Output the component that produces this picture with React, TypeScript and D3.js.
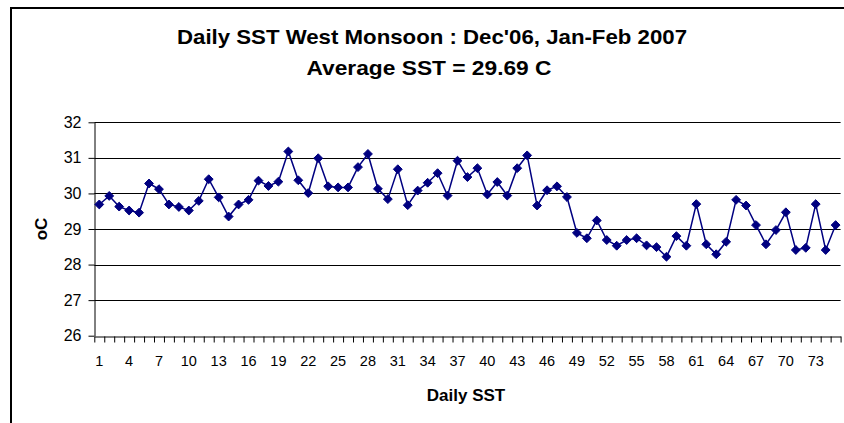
import React, { useEffect, useRef } from 'react';
import * as d3 from 'd3';

const days: number[] = d3.range(1, 76);
const sst: number[] = [
  29.69, 29.93, 29.63, 29.52, 29.46, 30.28, 30.12, 29.69, 29.62, 29.52,
  29.79, 30.40, 29.89, 29.35, 29.69, 29.82, 30.36, 30.21, 30.33, 31.18,
  30.37, 30.01, 30.99, 30.20, 30.17, 30.17, 30.74, 31.11, 30.13, 29.84,
  30.68, 29.67, 30.08, 30.30, 30.57, 29.94, 30.92, 30.46, 30.71, 29.97,
  30.32, 29.94, 30.71, 31.07, 29.66, 30.09, 30.20, 29.90, 28.89, 28.74,
  29.24, 28.69, 28.53, 28.69, 28.74, 28.54, 28.49, 28.22, 28.80, 28.53,
  29.70, 28.57, 28.29, 28.64, 29.82, 29.66, 29.11, 28.57, 28.97, 29.47,
  28.41, 28.47, 29.70, 28.41, 29.11,
];
const yTicks: number[] = [26, 27, 28, 29, 30, 31, 32];
const xLabels: number[] = d3.range(1, 76, 3);

const titleText = "Daily SST West Monsoon : Dec'06, Jan-Feb 2007";
const subtitleText = 'Average SST = 29.69 C';
const xTitle = 'Daily SST';
const yTitle = 'oC';

const App = () => {
  const svgRef = useRef<SVGSVGElement>(null);

  useEffect(() => {
    const width = 844;
    const height = 423;
    const left = 94.3;
    const right = 840.6;
    const top = 122.3;
    const bottom = 335.7;
    const font = 'Liberation Sans, Arial, sans-serif';
    const navy = '#000080';

    const svg = d3.select(svgRef.current)
      .attr('width', width)
      .attr('height', height);

    svg.selectAll('*').remove();

    svg.append('rect')
      .attr('width', width)
      .attr('height', height)
      .attr('fill', '#fff');

    // outer chart border (runs off right and bottom)
    svg.append('rect')
      .attr('x', 11)
      .attr('y', 8)
      .attr('width', 900)
      .attr('height', 500)
      .attr('fill', 'none')
      .attr('stroke', '#000')
      .attr('stroke-width', 2);

    const x = d3.scaleBand<number>()
      .domain(days)
      .range([left, right])
      .padding(0);

    const xLin = d3.scaleLinear()
      .domain([0, days.length])
      .range([left, right]);

    const y = d3.scaleLinear()
      .domain([26, 32])
      .range([bottom, top]);

    // gridlines
    svg.append('g')
      .selectAll('line')
      .data(yTicks.filter(t => t !== 26))
      .join('line')
      .attr('x1', left)
      .attr('x2', right)
      .attr('y1', d => Math.round(y(d)) + 0.5)
      .attr('y2', d => Math.round(y(d)) + 0.5)
      .attr('stroke', '#000')
      .attr('stroke-width', 1);

    // y axis
    const yAxis = svg.append('g')
      .attr('transform', `translate(${Math.round(left) + 0.5},0)`)
      .call(d3.axisLeft(y).tickValues(yTicks).tickFormat(d3.format('d')).tickSize(6).tickSizeOuter(0).tickPadding(7));
    yAxis.select('.domain').attr('stroke', '#000');
    yAxis.selectAll('text')
      .attr('font-family', font)
      .attr('font-size', 16)
      .attr('fill', '#000');

    // x axis ticks between categories
    const xAxis = svg.append('g')
      .attr('transform', `translate(0,${Math.round(bottom) + 0.5})`)
      .call(d3.axisBottom(xLin).tickValues(d3.range(0, days.length + 1)).tickSize(6).tickSizeOuter(0).tickFormat(() => ''));
    xAxis.select('.domain').attr('stroke', '#000');

    // x labels at category centres
    svg.append('g')
      .selectAll('text')
      .data(xLabels)
      .join('text')
      .attr('x', d => (x(d) as number) + x.bandwidth() / 2)
      .attr('y', 366)
      .attr('text-anchor', 'middle')
      .attr('font-family', font)
      .attr('font-size', 14.5)
      .text(d => d);

    // series line
    const line = d3.line<number>()
      .x((_, i) => (x(days[i]) as number) + x.bandwidth() / 2)
      .y(d => y(d));

    svg.append('path')
      .datum(sst)
      .attr('d', line)
      .attr('fill', 'none')
      .attr('stroke', navy)
      .attr('stroke-width', 1.5);

    // diamond markers
    const diamond = d3.symbol().type(d3.symbolDiamond2).size(50);
    svg.append('g')
      .selectAll('path')
      .data(sst)
      .join('path')
      .attr('d', diamond)
      .attr('transform', (d, i) => `translate(${(x(days[i]) as number) + x.bandwidth() / 2},${y(d)})`)
      .attr('fill', navy)
      .attr('stroke', navy)
      .attr('stroke-width', 1);

    // titles
    svg.append('text')
      .attr('x', 432)
      .attr('y', 44)
      .attr('text-anchor', 'middle')
      .attr('font-family', font)
      .attr('font-weight', 'bold')
      .attr('font-size', 21)
      .attr('textLength', 510)
      .attr('lengthAdjust', 'spacingAndGlyphs')
      .text(titleText);

    svg.append('text')
      .attr('x', 429)
      .attr('y', 75)
      .attr('text-anchor', 'middle')
      .attr('font-family', font)
      .attr('font-weight', 'bold')
      .attr('font-size', 21)
      .attr('textLength', 245)
      .attr('lengthAdjust', 'spacingAndGlyphs')
      .text(subtitleText);

    svg.append('text')
      .attr('x', 466)
      .attr('y', 401)
      .attr('text-anchor', 'middle')
      .attr('font-family', font)
      .attr('font-weight', 'bold')
      .attr('font-size', 17)
      .text(xTitle);

    svg.append('text')
      .attr('transform', 'translate(47,229) rotate(-90)')
      .attr('text-anchor', 'middle')
      .attr('font-family', font)
      .attr('font-weight', 'bold')
      .attr('font-size', 17)
      .text(yTitle);
  }, []);

  return <svg ref={svgRef} style={{ position: 'absolute', left: 0, top: 0 }}></svg>;
};

export default App;
